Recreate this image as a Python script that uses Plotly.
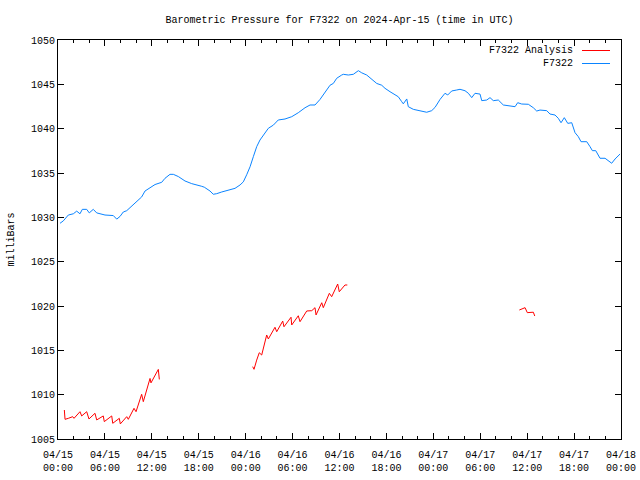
import pandas as pd
import plotly.graph_objects as go

# ---- data (hours since 2024-04-15 00:00 UTC, millibars) ----
obs_hours = [0.26, 0.68, 1.32, 1.96, 2.39, 2.81, 3.11, 3.67, 4.00, 4.51, 4.95, 5.59, 6.01, 7.07, 7.51, 7.93,
             8.35, 8.79, 9.63, 10.70, 11.13, 11.98, 12.41, 13.26, 13.68, 14.32, 14.75, 15.39, 16.24, 17.10,
             17.94, 18.38, 18.71, 19.44, 19.86, 20.30, 20.94, 21.78, 22.64, 23.28, 23.70, 24.13, 24.56,
             24.98, 25.41, 25.83, 26.47, 26.90, 27.54, 28.17, 29.03, 29.89, 30.73, 31.59, 32.23, 32.87,
             33.51, 34.15, 34.79, 35.21, 35.64, 36.28, 36.49, 37.13, 37.77, 38.41, 38.84, 39.48, 40.12,
             40.76, 41.40, 41.82, 42.46, 43.10, 43.52, 43.96, 44.16, 44.60, 44.80, 45.44, 46.08, 47.15,
             47.79, 48.22, 48.86, 49.49, 49.84, 50.35, 50.99, 51.41, 52.05, 52.48, 52.91, 53.33, 53.97,
             54.19, 54.83, 55.25, 55.67, 56.31, 56.95, 57.59, 58.45, 58.79, 59.30, 60.15, 60.79, 61.22,
             61.64, 62.50, 62.92, 63.56, 63.98, 64.33, 64.75, 65.19, 65.70, 66.12, 66.54, 66.89, 67.62,
             68.04, 68.34, 68.77, 69.32, 69.96, 70.81, 71.24, 71.88]
obs_mb = [1029.33, 1029.6, 1030.26, 1030.4, 1030.7, 1030.4, 1030.9, 1030.9, 1030.5, 1030.9, 1030.5, 1030.35,
          1030.26, 1030.2, 1029.8, 1030.1, 1030.6, 1030.75, 1031.4, 1032.3, 1032.97, 1033.4, 1033.7, 1033.95,
          1034.4, 1034.85, 1034.85, 1034.6, 1034.1, 1033.8, 1033.65, 1033.5, 1033.4, 1032.97, 1032.6,
          1032.67, 1032.86, 1033.1, 1033.27, 1033.65, 1034.0, 1034.8, 1035.7, 1036.84, 1037.97, 1038.72,
          1039.48, 1040.04, 1040.4, 1040.98, 1041.09, 1041.35, 1041.8, 1042.36, 1042.67, 1042.67, 1043.3,
          1044.17, 1044.9, 1045.1, 1045.68, 1046.05, 1046.13, 1046.05, 1046.13, 1046.54, 1046.3, 1046.05,
          1045.57, 1045.1, 1044.9, 1044.55, 1044.17, 1043.8, 1043.6, 1043.04, 1042.8, 1043.35, 1042.48,
          1042.18, 1042.03, 1041.85, 1042.03, 1042.4, 1043.3, 1043.99, 1043.8, 1044.25, 1044.36, 1044.44,
          1044.28, 1043.99, 1043.5, 1043.99, 1043.9, 1043.16, 1043.23, 1043.5, 1043.16, 1043.23, 1042.67,
          1042.6, 1042.48, 1042.93, 1042.78, 1042.75, 1042.36, 1041.99, 1042.1, 1042.03, 1041.65, 1041.54,
          1041.17, 1040.67, 1041.24, 1040.6, 1040.67, 1039.55, 1039.1, 1038.53, 1038.53, 1037.97, 1037.52,
          1037.52, 1036.66, 1036.66, 1036.1, 1036.58, 1037.14]

ana_hours = [0.81, 0.90, 1.32, 1.88, 2.05, 2.81, 3.03, 3.67, 3.96, 4.73, 4.95, 5.79, 5.92, 6.87, 7.00, 7.84,
             7.97, 8.79, 8.99, 9.72, 9.98, 10.70, 10.91, 11.77, 11.89, 12.83, 12.96, None,
             24.90, 25.07, 25.41, 25.74, 26.05, 26.69, 26.90, 27.75, 27.97, 28.74, 28.90, 29.80, 29.89,
             30.73, 30.95, 31.81, 32.45, 32.87, 33.00, 33.73, 33.93, 34.70, 35.00, 35.77, 35.97, 36.70,
             37.00, None,
             59.00, 59.43, 59.73, 60.02, 60.58, 60.79, 60.97]
ana_mb = [1008.27, 1007.22, 1007.33, 1007.52, 1007.33, 1008.08, 1007.6, 1008.08, 1007.26, 1007.9, 1007.15,
          1007.6, 1006.96, 1007.6, 1006.77, 1007.33, 1006.7, 1007.52, 1007.22, 1008.46, 1008.08, 1010.04,
          1009.21, 1011.83, 1011.33, 1012.85, 1011.72, None,
          1013.16, 1012.86, 1013.9, 1014.73, 1014.47, 1016.73, 1016.28, 1017.6, 1017.1, 1018.3, 1017.66,
          1018.73, 1017.86, 1018.9, 1018.23, 1019.44, 1019.47, 1019.81, 1018.99, 1020.37, 1019.81, 1021.43,
          1021.05, 1022.48, 1021.61, 1022.37, 1022.37, None,
          1019.55, 1019.74, 1019.81, 1019.25, 1019.25, 1019.3, 1018.87]

tick_hours = [0, 6, 12, 18, 24, 30, 36, 42, 48, 54, 60, 66, 72]
tick_labels = ["04/15<br>00:00", "04/15<br>06:00", "04/15<br>12:00", "04/15<br>18:00",
               "04/16<br>00:00", "04/16<br>06:00", "04/16<br>12:00", "04/16<br>18:00",
               "04/17<br>00:00", "04/17<br>06:00", "04/17<br>12:00", "04/17<br>18:00",
               "04/18<br>00:00"]
series_names = ["F7322 Analysis", "F7322"]
series_colors = ["#ff0000", "#0a84ff"]

base = pd.Timestamp("2024-04-15 00:00")


def to_time(hours):
    return [None if h is None else base + pd.Timedelta(hours=h) for h in hours]


FONT = "Liberation Mono, DejaVu Sans Mono, monospace"

fig = go.Figure()
fig.add_trace(go.Scatter(x=to_time(ana_hours), y=ana_mb, mode="lines", name=series_names[0],
                         line=dict(color=series_colors[0], width=1), connectgaps=False, showlegend=False))
fig.add_trace(go.Scatter(x=to_time(obs_hours), y=obs_mb, mode="lines", name=series_names[1],
                         line=dict(color=series_colors[1], width=1), showlegend=False))

# gnuplot-style legend: text right-aligned, sample line to its right
L, R, T, B = 58, 621, 40, 439
for i, (nm, col) in enumerate(zip(series_names, series_colors)):
    ypx = 50.5 + i * 13
    yy = (B - ypx) / (B - T)
    fig.add_annotation(xref="paper", yref="paper", x=(575 - L) / (R - L), y=yy, text=nm, showarrow=False,
                       xanchor="right", yanchor="middle", xshift=0,
                       font=dict(family=FONT, size=10, color="black"))
    fig.add_shape(type="line", xref="paper", yref="paper", x0=(582 - L) / (R - L), x1=(610 - L) / (R - L),
                  y0=yy, y1=yy, line=dict(color=col, width=1))

fig.update_layout(
    width=640, height=480,
    margin=dict(l=L, r=640 - R, t=T, b=480 - B),
    paper_bgcolor="white", plot_bgcolor="white",
    font=dict(family=FONT, size=10, color="black"),
    title=dict(text="Barometric Pressure for F7322 on 2024-Apr-15 (time in UTC)",
               x=(L + R) / 2 / 640, xanchor="center", y=1 - 19 / 480, yanchor="middle",
               font=dict(family=FONT, size=10, color="black")),
    showlegend=False,
)
fig.update_xaxes(
    range=[base, base + pd.Timedelta(hours=72)],
    tickvals=to_time(tick_hours), ticktext=tick_labels,
    ticks="inside", ticklen=6, tickcolor="black", tickwidth=1,
    minor=dict(ticks="inside", ticklen=3, dtick=2 * 3600 * 1000, tickcolor="black", showgrid=False),
    showline=True, linecolor="black", linewidth=1, mirror="allticks",
    showgrid=False, zeroline=False, tickangle=0, automargin=False,
    ticklabelstandoff=6,
    tickfont=dict(family=FONT, size=10),
)
fig.update_yaxes(
    range=[1005, 1050], dtick=5, tick0=1005,
    ticks="inside", ticklen=6, tickcolor="black", tickwidth=1,
    showline=True, linecolor="black", linewidth=1, mirror="allticks",
    showgrid=False, zeroline=False, automargin=False,
    title=dict(text="milliBars", font=dict(family=FONT, size=10), standoff=14),
    tickfont=dict(family=FONT, size=10),
)

fig.write_html("out.html")
